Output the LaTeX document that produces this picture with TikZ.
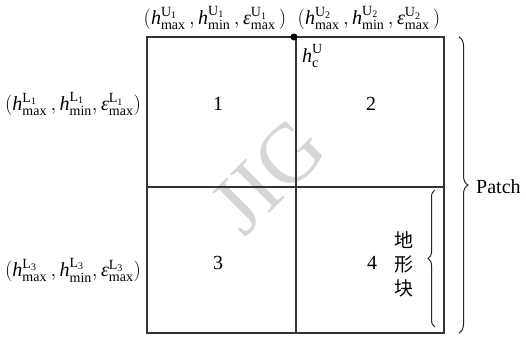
\documentclass[tikz,border=0pt]{standalone}
\usepackage{amsmath}
\usepackage{fontspec}
\setmainfont{Liberation Serif}
\newfontfamily\cjk{Noto Sans CJK SC}
\usetikzlibrary{decorations.pathreplacing}
\newcommand{\hq}[3]{\textit{#1}^{\text{#2}_{\text{#3}}}}
\newcommand{\tri}[2]{$(\hq{h}{#1}{#2}_{\text{max}}\,,\hq{h}{#1}{#2}_{\text{min}},\hq{ε}{#1}{#2}_{\text{max}})$}
\newcommand{\trib}[2]{$(\hq{h}{#1}{#2}_{\text{max}}\,,\hq{h}{#1}{#2}_{\text{min}}\,,\hq{ε}{#1}{#2}_{\text{max}}\,)$}
\tikzset{
  gridline/.style={draw=black!80, line width=1.3pt},
  lbl/.style={inner sep=0pt, font=\fontsize{20}{24}\selectfont},
  num/.style={inner sep=0pt, font=\fontsize{20}{24}\selectfont},
  bracestyle/.style={draw=black!85, line width=1pt, decorate},
}
\begin{document}
\begin{tikzpicture}[x=1pt,y=-1pt]
\useasboundingbox (0,0) rectangle (526,337);
% watermark
\node[inner sep=0pt, text=black!16, rotate=45, font=\fontsize{84}{84}\selectfont] (wm) at (268,176) {JIG};
% grid corners
\coordinate (tl) at (147,37);
\coordinate (br) at (444,333);
\coordinate (mt) at (296,37);
\coordinate (mb) at (296,333);
\coordinate (ml) at (147,187);
\coordinate (mr) at (444,187);
\draw[gridline] (tl) rectangle (br);
\draw[gridline] (mt) -- (mb);
\draw[gridline] (ml) -- (mr);
\node[circle, fill=black, inner sep=0pt, minimum size=7pt] (dot) at (294,37) {};
\node[lbl, anchor=west] (hc) at (302,56) {$\hq{h}{U}{}_{\text{c}}$};
% numbers
\node[num] (n1) at (218,104) {1};
\node[num] (n2) at (371,104) {2};
\node[num] (n3) at (218,263) {3};
\node[num] (n4) at (372,263) {4};
% labels
\node[lbl] (u1) at (215,18) {\trib{U}{1}};
\node[lbl] (u2) at (369,18) {\trib{U}{2}};
\node[lbl] (l1) at (73,104) {\tri{L}{1}};
\node[lbl] (l3) at (73,270) {\tri{L}{3}};
% small brace
\coordinate (sb1) at (435,327);
\coordinate (sb2) at (435,190);
\draw[bracestyle, decoration={brace, amplitude=7pt}] (sb1) -- (sb2);
\node[inner sep=0pt, align=center, font=\cjk\fontsize{19}{24}\selectfont] (dx) at (404,264) {地\\形\\块};
% big brace
\coordinate (bb1) at (459,37);
\coordinate (bb2) at (459,333);
\draw[bracestyle, decoration={brace, amplitude=9pt}] (bb1) -- (bb2);
\node[num, anchor=west] (patch) at (476,187) {Patch};
\end{tikzpicture}
\end{document}
